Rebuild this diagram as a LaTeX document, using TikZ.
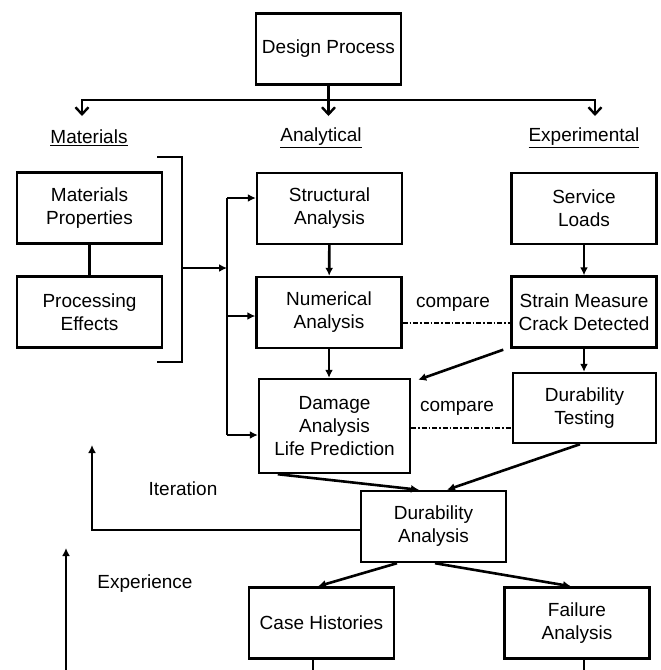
\documentclass[tikz,border=0pt]{standalone}
\usepackage{fontspec}
\setmainfont{Liberation Sans}
\usepackage{tikz}
\usetikzlibrary{shapes,arrows,arrows.meta,positioning}
\tikzstyle{block} = [rectangle, draw, line width=2.4pt, inner sep=0pt, align=center, minimum width=145pt, minimum height=71pt, font=\fontsize{19}{23}\selectfont]
\tikzstyle{label} = [inner sep=0pt, font=\fontsize{19}{23}\selectfont]
\tikzstyle{line} = [draw, line width=2.6pt, -{Latex[length=8pt,width=8pt]}]
\tikzstyle{branch} = [draw, line width=2.6pt, -{Straight Barb[length=7pt,width=13pt,line width=2.4pt]}]
\tikzstyle{cmp} = [draw, line width=1.2pt, dash pattern=on 5pt off 2pt on 1.5pt off 2pt]

\begin{document}
\begin{tikzpicture}[x=1pt, y=-1pt]
  \useasboundingbox (0,0) rectangle (661,670);
  % Place nodes
  \node [block] (design) at (328.5,49) {Design Process};
  \node [label] (matlab) at (89,138) {\underline{Materials}};
  \node [label] (analab) at (321,138) {\underline{Analytical}};
  \node [label] (explab) at (584,138) {\underline{Experimental}};
  \node [block] (matprop) at (89.5,208) {Materials\\Properties};
  \node [block] (proc) at (89.5,312) {Processing\\Effects};
  \node [block] (struct) at (329.5,208.5) {Structural\\Analysis};
  \node [block] (numer) at (329,312.5) {Numerical\\Analysis};
  \node [block, minimum width=151pt, minimum height=94pt] (damage) at (334.5,426) {Damage\\Analysis\\Life Prediction};
  \node [block] (service) at (584,208.5) {Service\\Loads};
  \node [block] (strain) at (584,312) {Strain Measure\\Crack Detected};
  \node [block, minimum width=143pt, minimum height=70pt] (durtest) at (584.5,408) {Durability\\Testing};
  \node [block] (durana) at (433.5,526.5) {Durability\\Analysis};
  \node [block] (cases) at (321.5,623) {Case Histories};
  \node [block] (failure) at (577,623) {Failure\\Analysis};
  \node [label] (cmpone) at (453,304) {compare};
  \node [label] (cmptwo) at (457,408) {compare};
  \node [label] (iterlab) at (183,489) {Iteration};
  \node [label] (explab2) at (145,584) {Experience};
  % Free ends
  \coordinate (split) at (328.5,100);
  \coordinate (tomat) at (82,116);
  \coordinate (toana) at (328.5,116);
  \coordinate (toexp) at (595,116);
  \coordinate (brtop) at (157,157);
  \coordinate (brbot) at (157,362);
  \coordinate (brmid) at (182,268);
  \coordinate (bus) at (227,268);
  \coordinate (bustop) at (227,198);
  \coordinate (busbot) at (227,435);
  \coordinate (itertop) at (92,445);
  \coordinate (expbot) at (66,670);
  \coordinate (exptop) at (66,548);
  \coordinate (casebot) at (313,670);
  \coordinate (failbot) at (584,670);
  % Draw edges
  \path [draw, line width=2.6pt] (design.south) -- (split);
  \path [branch] (split) -| (tomat);
  \path [branch] (split) -| (toexp);
  \path [branch] (split) -- (toana);
  \path [draw, line width=2.6pt] (brtop) -- (brtop -| brmid) -- (brbot -| brmid) -- (brbot);
  \path [draw, line width=2.6pt] (matprop) -- (proc);
  \path [line] (brmid) -- (bus);
  \path [draw, line width=2.6pt] (bustop) -- (busbot);
  \path [line] (bustop) -- (bustop -| struct.west);
  \path [line] ([yshift=-3.5pt]numer.west -| bus) -- ([yshift=-3.5pt]numer.west);
  \path [line] (busbot) -- (busbot -| damage.west);
  \path [line] (struct) -- (numer);
  \path [line] (numer.south) -- (numer.south |- damage.north);
  \path [line] (service) -- (strain);
  \path [line] (strain) -- (strain.south |- durtest.north);
  \path [line] ([xshift=-7pt,yshift=-1pt]strain.south west) -- ([xshift=7pt,yshift=-2pt]damage.north east);
  \path [cmp] ([yshift=-10.5pt]numer.east) -- ([yshift=-10.5pt]numer.east -| strain.west);
  \path [cmp] ([yshift=-2pt]damage.east) -- ([yshift=-2pt]damage.east -| durtest.west);
  \path [line] ([xshift=20pt]damage.south west) -- ([xshift=-14.5pt]durana.north);
  \path [line] ([xshift=-4.5pt]durtest.south) -- ([xshift=13.5pt]durana.north);
  \path [line] ([xshift=-36.5pt]durana.south) -- ([xshift=-3.5pt]cases.north);
  \path [line] ([xshift=1.5pt]durana.south) -- ([xshift=-6pt]failure.north);
  \path [line] ([yshift=-3.5pt]durana.west) -| (itertop);
  \path [line] (expbot) -- (exptop);
  \path [draw, line width=2.6pt] (casebot |- cases.south) -- (casebot);
  \path [draw, line width=2.6pt] (failbot |- failure.south) -- (failbot);
\end{tikzpicture}
\end{document}
